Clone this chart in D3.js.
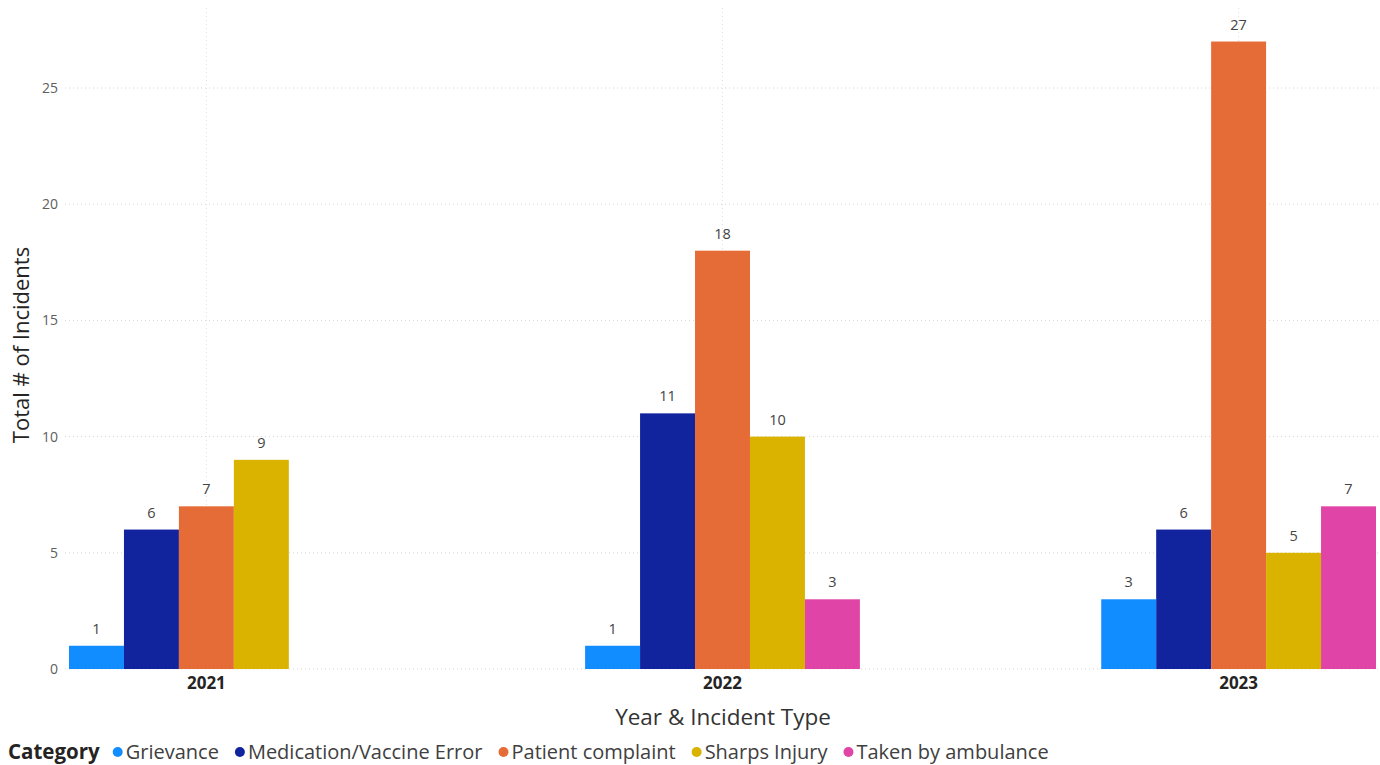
<!DOCTYPE html>
<html>
<head>
<meta charset="utf-8">
<script src="https://cdn.jsdelivr.net/npm/d3@7"></script>
<style>
  html, body { margin: 0; padding: 0; background: #fff; }
  svg { display: block; font-family: "Segoe UI", "Open Sans", "Noto Sans", sans-serif; }
</style>
</head>
<body>
<svg id="chart" width="1380" height="765"></svg>
<script>
const years = ["2021", "2022", "2023"];
const categories = ["Grievance", "Medication/Vaccine Error", "Patient complaint", "Sharps Injury", "Taken by ambulance"];
const colors = ["#118DFF", "#12239E", "#E66C37", "#D9B300", "#E044A7"];
const grievance = [1, 1, 3];
const medication = [6, 11, 6];
const patientComplaint = [7, 18, 27];
const sharpsInjury = [9, 10, 5];
const takenByAmbulance = [null, 3, 7];
const yTicks = [0, 5, 10, 15, 20, 25];

const seriesValues = [grievance, medication, patientComplaint, sharpsInjury, takenByAmbulance];

const svg = d3.select("#chart");
const W = 1380;

const x0 = d3.scaleBand().domain(years).range([69, 1376]).paddingInner(0.4676).paddingOuter(0);
const x1 = d3.scaleBand().domain(categories).range([0, x0.bandwidth()]).padding(0);
const y = d3.scaleLinear().domain([0, 25]).range([669, 88]);

// horizontal grid
const grid = svg.append("g");
grid.selectAll("line.h").data(yTicks).join("line")
  .attr("x1", 65).attr("x2", W)
  .attr("y1", d => y(d)).attr("y2", d => y(d))
  .attr("stroke", "#d8d8d8").attr("stroke-width", 1).attr("stroke-dasharray", "1,3");
// vertical grid at group centers
grid.selectAll("line.v").data(years).join("line")
  .attr("x1", d => x0(d) + x0.bandwidth() / 2).attr("x2", d => x0(d) + x0.bandwidth() / 2)
  .attr("y1", 8).attr("y2", 669)
  .attr("stroke", "#e0e0e0").attr("stroke-width", 1).attr("stroke-dasharray", "1,3");

// y axis
const yAxis = d3.axisLeft(y).tickValues(yTicks).tickSize(0).tickPadding(0);
const ya = svg.append("g").attr("transform", "translate(58,0)").call(yAxis);
ya.select(".domain").remove();
ya.selectAll("text").attr("font-size", 14).attr("fill", "#605E5C")
  .attr("font-family", "'Segoe UI','Open Sans',sans-serif");

// x axis
const xAxis = d3.axisBottom(x0).tickSize(0).tickPadding(0);
const xa = svg.append("g").attr("transform", "translate(0,677)").call(xAxis);
xa.select(".domain").remove();
xa.selectAll("text").attr("font-size", 17).attr("font-weight", "bold").attr("fill", "#252423")
  .attr("font-family", "'Segoe UI','Open Sans',sans-serif");

// bars
const data = [];
years.forEach((yr, i) => {
  categories.forEach((c, j) => {
    const v = seriesValues[j][i];
    if (v != null) data.push({ year: yr, cat: c, value: v, color: colors[j] });
  });
});

svg.append("g").selectAll("rect").data(data).join("rect")
  .attr("x", d => x0(d.year) + x1(d.cat))
  .attr("width", x1.bandwidth())
  .attr("y", d => y(d.value))
  .attr("height", d => y(0) - y(d.value))
  .attr("fill", d => d.color);

svg.append("g").selectAll("text").data(data).join("text")
  .attr("x", d => x0(d.year) + x1(d.cat) + x1.bandwidth() / 2)
  .attr("y", d => y(d.value) - 12)
  .attr("text-anchor", "middle")
  .attr("font-size", 14.5).attr("fill", "#444")
  .text(d => d.value);

// axis titles
svg.append("text")
  .attr("transform", "translate(29,345) rotate(-90)")
  .attr("text-anchor", "middle")
  .attr("font-size", 22).attr("fill", "#252423")
  .text("Total # of Incidents");

svg.append("text")
  .attr("x", 723).attr("y", 725)
  .attr("text-anchor", "middle")
  .attr("font-size", 22.5).attr("fill", "#333")
  .text("Year & Incident Type");

// legend
const lg = svg.append("g").attr("transform", "translate(8,759)");
const title = lg.append("text").attr("x", 0).attr("y", 0)
  .attr("font-size", 20.5).attr("font-weight", "bold").attr("fill", "#252423").text("Category");
let cx = title.node().getComputedTextLength() + 13;
categories.forEach((c, j) => {
  lg.append("circle").attr("cx", cx + 5).attr("cy", -7).attr("r", 5).attr("fill", colors[j]);
  const t = lg.append("text").attr("x", cx + 13).attr("y", 0)
    .attr("font-size", 20).attr("fill", "#404040").text(c);
  cx += 13 + t.node().getComputedTextLength() + 16;
});
</script>
</body>
</html>
